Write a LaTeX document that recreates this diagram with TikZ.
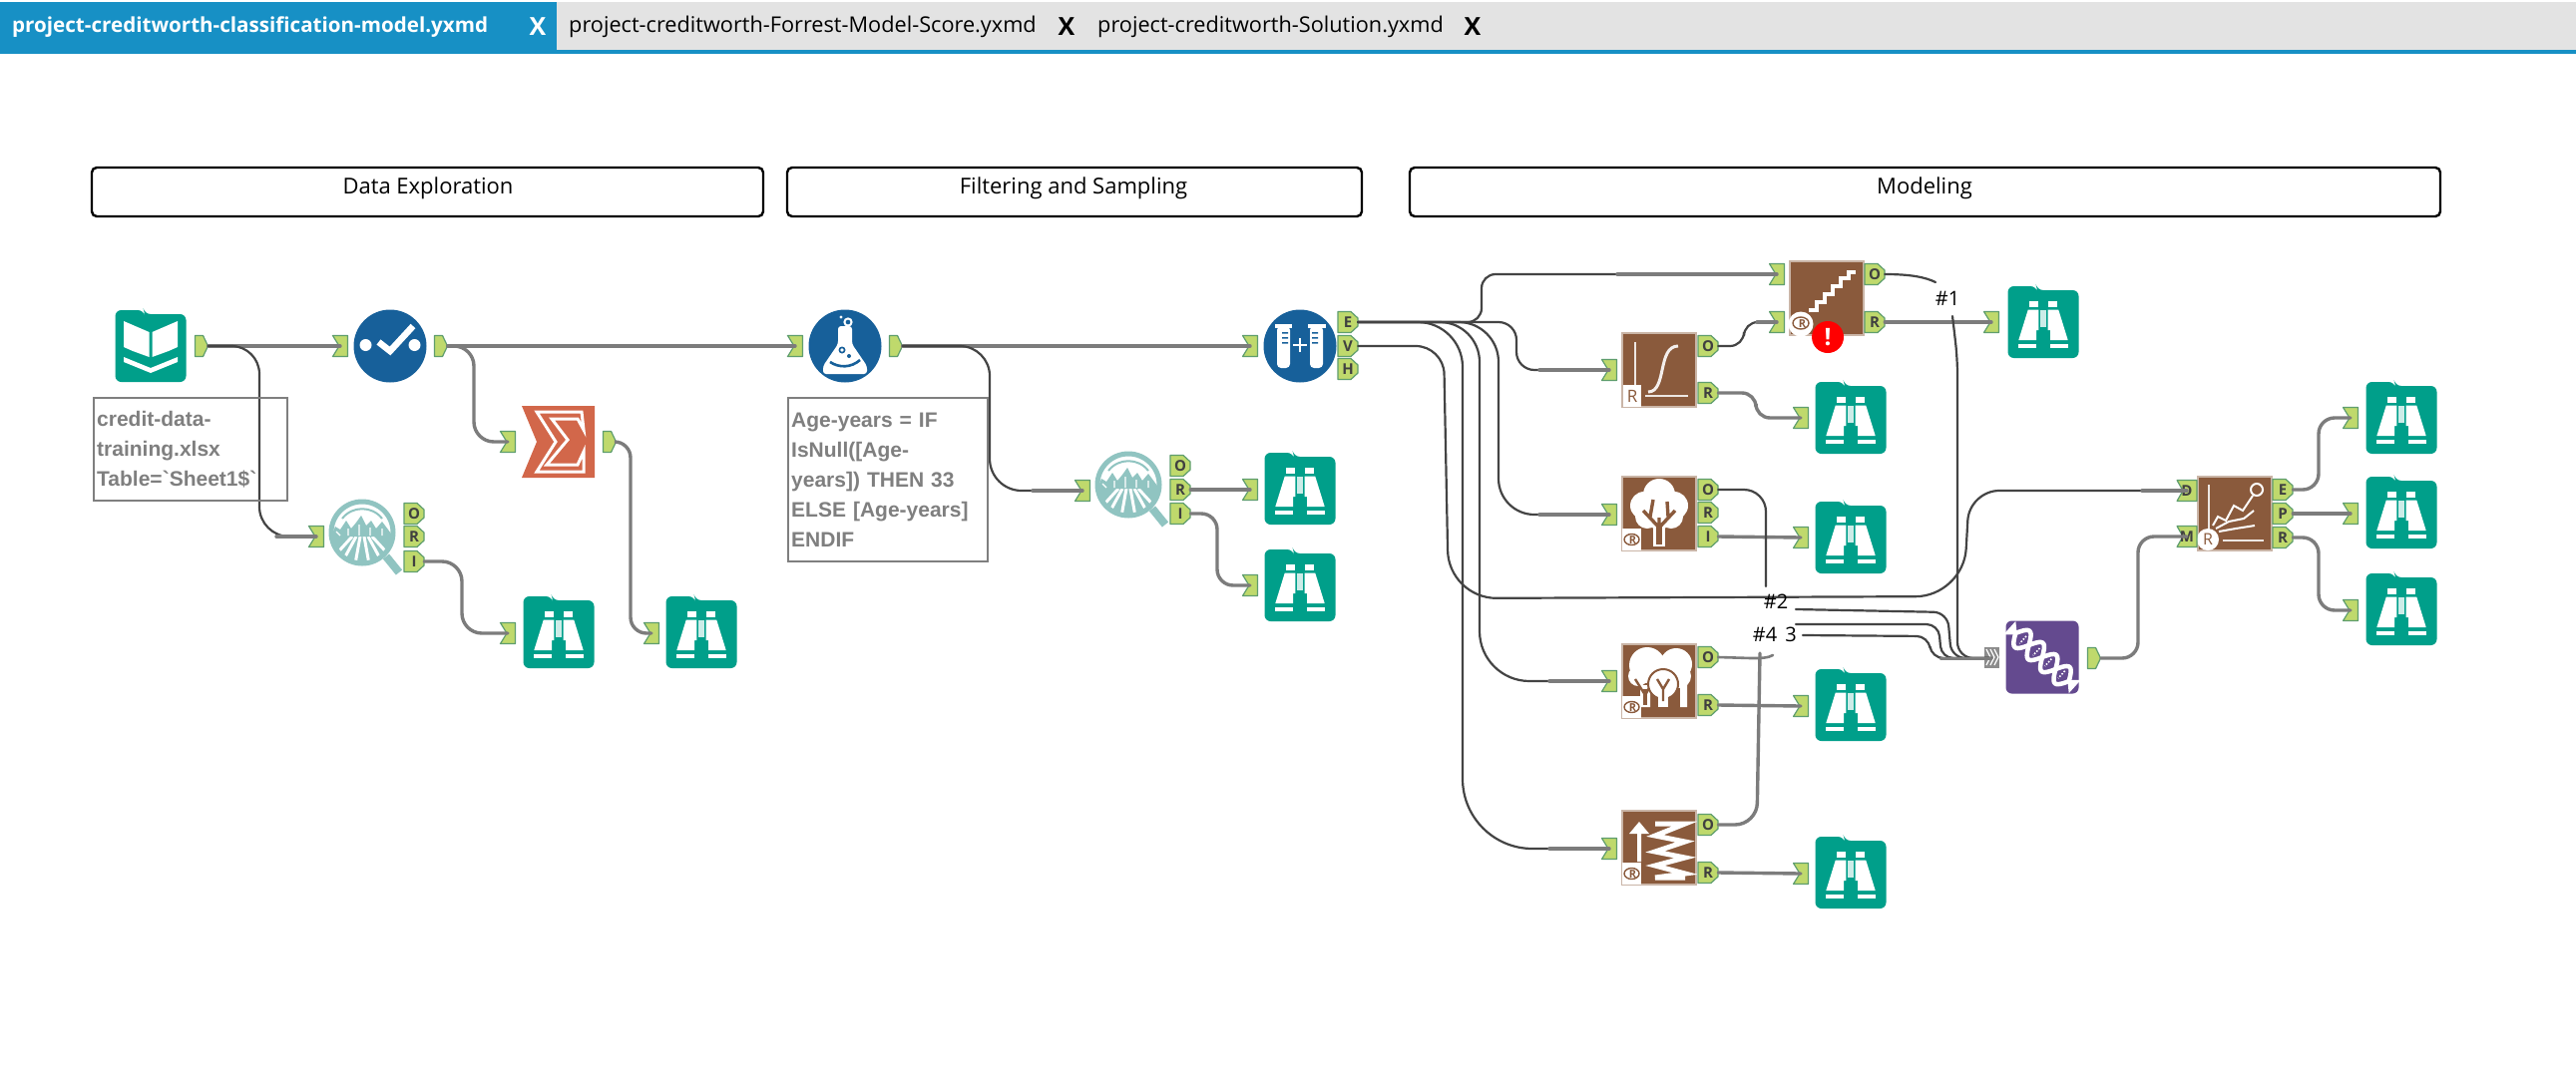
\documentclass[tikz,border=0pt]{standalone}
\usepackage{fontspec}
\setmainfont{Open Sans}
\newfontfamily\annfont{Liberation Sans}
\usetikzlibrary{calc}
\definecolor{tealc}{HTML}{009F8A}
\definecolor{brownc}{HTML}{8A5A3C}
\definecolor{bluec}{HTML}{17609A}
\definecolor{sigmac}{HTML}{D2674A}
\definecolor{purplec}{HTML}{644A8F}
\definecolor{magc}{HTML}{90C4C1}
\definecolor{ancfill}{HTML}{BFD96C}
\definecolor{ancedge}{HTML}{5F9E6E}
\definecolor{tabblue}{HTML}{1790C5}
\definecolor{tabgray}{HTML}{E3E3E3}
\definecolor{wiregray}{HTML}{7C7C7C}
\definecolor{wiredark}{HTML}{444444}
\definecolor{anngray}{HTML}{7F7F7F}
\newcommand\FolderShape{[rounded corners=6] (-35.5,-36) -- (-7,-36) -- (-6,-32) -- (35.5,-32) -- (35.5,36) -- (-35.5,36) -- cycle}
\newcommand\BrownBase{\fill[brownc,draw=brownc!45!white,line width=1.2] (-37,-37) -- (37,-37) -- (37,37) -- (-37,37) -- cycle;}
\newcommand\RBox{\fill[white] (-37,15) rectangle (-18,37);
  \draw[brownc,line width=1.4] (-27.5,26) ellipse (7.5 and 5.5);
  \node[inner sep=0,text=brownc,font=\fontsize{11}{11}\selectfont\bfseries] (rmark) at (-26.5,26.5) {R};}
\tikzset{
  wire/.style={draw=wiregray,line width=3.4,line cap=round},
  longw/.style={draw=wiredark,line width=2.2,line cap=round},
  anc/.style={fill=ancfill,draw=ancedge,line width=1.2,line join=round},
  ancnode/.style={inner sep=0,minimum height=21,text=black!75,font=\fontsize{15}{15}\selectfont\bfseries},
  toolbox/.style={inner sep=0,minimum width=72,minimum height=72},
  container/.style={draw=black,line width=2.4,rounded corners=5,fill=white},
  conttext/.style={inner sep=0,text=black,font=\fontsize{22}{24}\selectfont},
  annot/.style={draw=anngray,line width=2.4,inner sep=3,anchor=north west,align=left,text=anngray,font=\annfont\fontsize{21}{30}\selectfont\bfseries},
  tabtext/.style={inner sep=0,font=\fontsize{21.7}{24}\selectfont},
  tabbold/.style={inner sep=0,font=\fontsize{20.6}{24}\selectfont\bfseries},
  tabx/.style={inner sep=0,font=\fontsize{25}{25}\selectfont\bfseries},
  wlabel/.style={inner sep=0,text=black,font=\fontsize{20}{22}\selectfont},
  browseicon/.pic={
    \fill[tealc] \FolderShape;
    \foreach \s in {1,-1}{\begin{scope}[xscale=\s]
      \fill[white] (-15.3,-12.3) -- (-4.7,-12.3) -- (-4.7,8) -- (-7,8) -- (-7,18) -- (-24.7,18) -- cycle;
      \fill[white] (-13.7,-21) rectangle (-4.7,-15);
      \fill[white] (-24.7,21.5) rectangle (-7,25.5);
    \end{scope}}
    \fill[white!80!tealc] (-3.5,-12) rectangle (3,5);
  },
  bookicon/.pic={
    \fill[tealc] \FolderShape;
    \foreach \s in {1,-1}{\begin{scope}[xscale=\s]
      \fill[white] (-27,-25) -- (-1.5,-14) -- (-1.5,11) -- (-18,5) -- (-27,1) -- cycle;
      \fill[white] (-27,11) -- (0,22) -- (0,27) -- (-27,16) -- cycle;
    \end{scope}}
  },
  checkicon/.pic={
    \fill[bluec] (0,0) ellipse (36.5 and 36.5);
    \fill[white] (-24.5,-1) circle (6) (24.5,-1) circle (6);
    \draw[white,line width=6.5] (-11.5,-4) -- (0,5) -- (23,-20);
  },
  flaskicon/.pic={
    \fill[bluec] (0,0) ellipse (36.5 and 36.5);
    \fill[white,rounded corners=3] (-7,-20) -- (7,-20) -- (7,-2) -- (22,20) -- (22,28) -- (-22,28) -- (-22,20) -- (-7,-2) -- cycle;
    \fill[bluec] (-3,4) circle (3.5) (4,10) circle (2);
    \fill[white] (-3,4) circle (1.8);
    \draw[bluec,line width=2.6] (-15,16) .. controls (-6,22) and (6,22) .. (15,14);
    \draw[white,line width=2] (3,-24) circle (3.6);
    \fill[white] (-4,-29) circle (1.6);
  },
  tubesicon/.pic={
    \fill[bluec] (0,0) ellipse (36.5 and 36.5);
    \foreach \s in {1,-1}{\begin{scope}[xscale=\s]
      \fill[white,rounded corners=4] (-23,-20) -- (-10,-20) -- (-10,22) -- (-23,22) -- cycle;
      \fill[white] (-25.5,-22) rectangle (-8,-18.5);
      \fill[bluec] (-18,-14) rectangle (-12,-12.4) (-18,-9) rectangle (-12,-7.4) (-18,-4) rectangle (-12,-2.4);
    \end{scope}}
    \draw[white,line width=2.2] (-7,-1) -- (7,-1) (0,-8) -- (0,6);
  },
  sigmaicon/.pic={
    \fill[sigmac] (-37,-36) -- (36,-36) -- (36,36) -- (-37,36) -- (-22,0) -- cycle;
    \draw[white,line width=3,line join=miter,fill=sigmac] (-22,-30) -- (23,-30) -- (25,-12) -- (19,-23) -- (-7,-23) -- (9,-2) -- (-12,23) -- (19,23) -- (25,10) -- (25,30) -- (-22,30) -- (-3,0) -- cycle;
  },
  magicon/.pic={
    \draw[magc,line width=8] (24,24) -- (37,40);
    \fill[white] (0,0) circle (31);
    \begin{scope}
      \clip (0,0) circle (31);
      \fill[magc] (-31,3) rectangle (31,33);
      \foreach \a in {-60,-36,-12,12,36,60}{\draw[white,line width=3] (\a/6,4) -- ({\a*0.62},34);}
      \fill[magc] (-31,4) -- (-27,-6) -- (-22,-3) -- (-16,-12) -- (-11,-4) -- (-6,-10) -- (-1,-17) -- (4,-7) -- (9,-12) -- (14,-4) -- (20,-11) -- (26,-3) -- (31,4) -- cycle;
      \draw[white,line width=1.2] (-26,-1) -- (-22,3) (-14,-4) -- (-14,3) (-3,-8) -- (-3,3) (8,-5) -- (8,3) (20,-4) -- (20,3);
    \end{scope}
    \draw[magc,line width=5] (0,0) circle (31);
    \draw[magc,line width=2] (-20,-14) .. controls (-10,-27) and (10,-27) .. (20,-14);
  },
  logisticicon/.pic={
    \BrownBase
    \draw[white!85!brownc,line width=2.6] (-24,-28) -- (-24,16) (-14,26) -- (29,26);
    \draw[white!90!brownc,line width=3] (-11,22) .. controls (8,22) and (-2,-24) .. (19,-24);
    \fill[white] (-36,15) rectangle (-18,37);
    \node[inner sep=0,text=brownc,font=\fontsize{17}{17}\selectfont] (rmark) at (-27,26) {R};
  },
  stepicon/.pic={
    \BrownBase
    \draw[white,line width=4.5,line join=miter] (-18,12) -- (-10,12) -- (-10,4) -- (-2,4) -- (-2,-4) -- (6,-4) -- (6,-12) -- (14,-12) -- (14,-20) -- (22,-20) -- (22,-26) -- (29,-26);
    \fill[white] (-26,26) circle (12.5);
    \draw[brownc,line width=1.4] (-26,25) ellipse (8 and 6);
    \node[inner sep=0,text=brownc,font=\fontsize{11}{11}\selectfont\bfseries] (rmark) at (-24.5,26) {R};
  },
  treeicon/.pic={
    \BrownBase
    \fill[white] (-15,-8) circle (14) (15,-8) circle (14) (0,-19) circle (16) (-12,3) circle (12) (12,3) circle (12) (0,2) circle (14);
    \fill[white] (-6,10) rectangle (6,33);
    \fill[brownc] (-3,12) rectangle (3,31);
    \draw[brownc,line width=3.4] (0,14) -- (0,4) (0,14) -- (-16,-3) (0,14) -- (16,-3) (-9,3) -- (-6,-14) (9,3) -- (8,-12);
    \RBox
  },
  forestIcon/.pic={
    \BrownBase
    \fill[white] (-12,-16) circle (18) (-21,-5) circle (10) (17,-17) circle (16) (20,-5) circle (12) (0,-7) circle (8);
    \fill[white] (-19,4) rectangle (-9,26) (21,4) rectangle (28,26);
    \fill[brownc] (-16,8) rectangle (-12,24);
    \draw[brownc,line width=2.4] (-14,14) -- (-24,-2) (-14,14) -- (-5,-2);
    \fill[white,draw=brownc,line width=2] (4,3) circle (15);
    \fill[white] (-1,14) rectangle (9,26);
    \draw[brownc,line width=2.4] (4,20) -- (4,6) (4,8) -- (-2,-2) (4,8) -- (10,-2);
    \RBox
  },
  boosticon/.pic={
    \BrownBase
    \fill[white] (-20,-26) -- (-10,-14) -- (-18,-14) -- (-18,14) -- (-22,14) -- (-22,-14) -- (-30,-14) -- cycle;
    \draw[white,line width=5] (-4,-24) -- (26,-24) -- (-4,-12) -- (26,-6) -- (-4,4) -- (26,10) -- (-4,18) -- (26,26) -- (-4,30) -- (26,30);
    \RBox
  },
  dnaicon/.pic={
    \fill[purplec,rounded corners=6] (-36.5,-36.5) rectangle (36.5,36.5);
    \begin{scope}[rotate=-42]
      \draw[white,line width=4.5] plot[domain=-36:36,samples=50,smooth] (\x,{11*sin(\x*10)});
      \draw[white,line width=4.5] plot[domain=-36:36,samples=50,smooth] (\x,{-11*sin(\x*10)});
      \foreach \p in {-26,-8,8,26}{\draw[white,line width=1.6,dashed,dash pattern=on 1.6 off 1.6] (\p,-5) -- (\p,5);}
      \fill[white] (-44,-9) -- (-34,0) -- (-44,9) -- cycle;
      \fill[white] (44,-9) -- (34,0) -- (44,9) -- cycle;
    \end{scope}
  },
  compareicon/.pic={
    \BrownBase
    \draw[white!85!brownc,line width=2] (-26,-29) -- (-26,18) (-12,27) -- (29,27);
    \draw[white,line width=2] (-22,12) -- (-17,3) -- (-9,7) -- (-1,-8) -- (8,-3) -- (18,-18);
    \draw[white,line width=2] (-19,15) -- (-6,8) -- (9,5) -- (19,-3);
    \draw[white,line width=2] (-16,18) -- (1,15) -- (20,12);
    \draw[white,line width=2] (22,-24) circle (6);
    \fill[white] (-27,26) circle (11);
    \node[inner sep=0,text=brownc,font=\fontsize{16}{16}\selectfont] (rmark) at (-27,26) {R};
  }
}
\newcommand\Tool[4]{\node[toolbox] (#1) at (#2,#3) {}; \pic at (#1.center) {#4};}
\newcommand\InA[4]{\begin{scope}[shift={(#2,#3)}]
  \draw[anc] (-7.5,-10.5) -- (7.5,-10.5) -- (7.5,10.5) -- (-7.5,10.5) -- (-1,0) -- cycle;
  \end{scope}\node[ancnode,minimum width=15] (#1) at (#2,#3) {#4};}
\newcommand\InL[4]{\begin{scope}[shift={(#2,#3)}]
  \draw[anc] (-10,-10.5) -- (10,-10.5) -- (10,10.5) -- (-10,10.5) -- (-4,0) -- cycle;
  \end{scope}\node[ancnode,minimum width=20] (#1) at (#2,#3) {#4};}
\newcommand\OutA[3]{\begin{scope}[shift={(#2,#3)}]
  \draw[anc] (-6.5,-10.5) -- (1.5,-10.5) -- (6.5,0) -- (1.5,10.5) -- (-6.5,10.5) -- cycle;
  \end{scope}\node[ancnode,minimum width=13] (#1) at (#2,#3) {};}
\newcommand\OutL[4]{\begin{scope}[shift={(#2,#3)}]
  \draw[anc] (-10,-10.5) -- (3,-10.5) -- (10,-4) -- (10,4) -- (3,10.5) -- (-10,10.5) -- cycle;
  \end{scope}\node[ancnode,minimum width=20] (#1) at (#2,#3) {#4};}
\newcommand\Wr[5][wire]{\coordinate (vv) at (#3,0);
  \draw[#1,rounded corners=#5] (#2.east) -- (#2.east -| vv) -- (#4.center -| vv) -- (#4.center);}
\newcommand\Wrr[6][longw]{\coordinate (vv) at (#3,0);
  \draw[#1,rounded corners=#5] (#2.east) -- (#2.east -| vv) [rounded corners=#6] -- (#4.center -| vv) -- (#4.center);}
\newcommand\Stub[2]{\draw[wire] (#1.center) -- ++(-#2,0);}
\begin{document}
\begin{tikzpicture}[x=1pt,y=-1pt]
\useasboundingbox (0,0) rectangle (2582,1082);
\fill[white] (0,0) rectangle (2582,1082);
\fill[tabgray] (0,2) rectangle (2582,50);
\fill[tabblue] (0,50) rectangle (2582,54);
\fill[tabblue] (0,2) rectangle (558,54);
\node[tabbold,anchor=west,text=white] (tab1) at (12,27) {project-creditworth-classification-model.yxmd};
\node[tabx,text=white] (x1) at (539,27) {X};
\node[tabtext,anchor=west,text=black] (tab2) at (570,27) {project-creditworth-Forrest-Model-Score.yxmd};
\node[tabx,text=black] (x2) at (1069,27) {X};
\node[tabtext,anchor=west,text=black] (tab3) at (1100,27) {project-creditworth-Solution.yxmd};
\node[tabx,text=black] (x3) at (1476,27) {X};
\draw[container] (92,168) rectangle (765,217);
\node[conttext] (c1) at (429,189) {Data Exploration};
\draw[container] (789,168) rectangle (1365,217);
\node[conttext] (c2) at (1076,189) {Filtering and Sampling};
\draw[container] (1413,168) rectangle (2446,217);
\node[conttext] (c3) at (1929,189) {Modeling};
\Tool{book}{151}{347}{bookicon}
\Tool{check}{391}{347}{checkicon}
\Tool{sigma}{560}{443}{sigmaicon}
\Tool{magA}{363}{534}{magicon}
\Tool{brA}{560}{634}{browseicon}
\Tool{brB}{703}{634}{browseicon}
\Tool{flask}{847}{347}{flaskicon}
\Tool{tubes}{1303}{347}{tubesicon}
\Tool{magB}{1131}{486}{magicon}
\Tool{brC}{1303}{490}{browseicon}
\Tool{brD}{1303}{587}{browseicon}
\Tool{logi}{1663}{371}{logisticicon}
\Tool{step}{1831}{299}{stepicon}
\Tool{tree}{1663}{515}{treeicon}
\Tool{forest}{1663}{683}{forestIcon}
\Tool{boost}{1663}{850}{boosticon}
\Tool{brE}{1855}{419}{browseicon}
\Tool{brF}{1855}{539}{browseicon}
\Tool{brG}{1855}{707}{browseicon}
\Tool{brH}{1855}{875}{browseicon}
\Tool{brI}{2048}{323}{browseicon}
\Tool{dna}{2047}{659}{dnaicon}
\Tool{comp}{2240}{515}{compareicon}
\Tool{brJ}{2407}{419}{browseicon}
\Tool{brK}{2407}{514}{browseicon}
\Tool{brL}{2407}{611}{browseicon}
\fill[red] (1832,338) circle (16);
\node[inner sep=0,text=white,font=\fontsize{24}{24}\selectfont\bfseries] (err) at (1832,338) {!};
\OutA{bookO}{202}{347}
\InA{checkI}{341}{347}{}
\OutA{checkO}{442}{347}
\InA{sigmaI}{509}{443}{}
\OutA{sigmaO}{611}{443}
\InA{magAI}{317}{538}{}
\OutL{magAo}{415}{515}{O}
\OutL{magAr}{415}{538}{R}
\OutL{magAi}{415}{563}{I}
\InA{brAI}{509}{635}{}
\InA{brBI}{653}{635}{}
\InA{flaskI}{797}{347}{}
\OutA{flaskO}{898}{347}
\InA{tubesI}{1253}{347}{}
\OutL{tubesE}{1351}{323}{E}
\OutL{tubesV}{1351}{347}{V}
\OutL{tubesH}{1351}{370}{H}
\InA{magBI}{1085}{492}{}
\OutL{magBo}{1183}{467}{O}
\OutL{magBr}{1183}{491}{R}
\OutL{magBi}{1183}{515}{I}
\InA{brCI}{1253}{491}{}
\InA{brDI}{1253}{587}{}
\InA{stepI}{1781}{275}{}
\InA{stepJ}{1781}{323}{}
\OutL{stepO}{1879}{275}{O}
\OutL{stepR}{1879}{323}{R}
\InA{logiI}{1613}{371}{}
\OutL{logiO}{1712}{347}{O}
\OutL{logiR}{1712}{394}{R}
\InA{brEI}{1805}{419}{}
\InA{treeI}{1613}{516}{}
\OutL{treeO}{1712}{491}{O}
\OutL{treeR}{1712}{514}{R}
\OutL{treeI2}{1712}{538}{I}
\InA{brFI}{1805}{539}{}
\InA{forestI}{1613}{683}{}
\OutL{forestO}{1712}{659}{O}
\OutL{forestR}{1712}{707}{R}
\InA{brGI}{1805}{708}{}
\InA{boostI}{1613}{851}{}
\OutL{boostO}{1712}{827}{O}
\OutL{boostR}{1712}{875}{R}
\InA{brHI}{1805}{876}{}
\InA{brII}{1996}{323}{}
\begin{scope}[shift={(1996,659)}]
  \fill[black!45] (-7.5,-10.5) rectangle (7.5,10.5);
  \draw[white,line width=1.2] (-5,-8) -- (-1,0) -- (-5,8) (-1,-8) -- (3,0) -- (-1,8) (3,-8) -- (7,0) -- (3,8);
\end{scope}
\node[ancnode,minimum width=15] (dnaI) at (1996,660) {};
\OutA{dnaO}{2099}{660}
\InL{compD}{2192}{492}{D}
\InL{compM}{2192}{538}{M}
\OutL{compE}{2288}{491}{E}
\OutL{compP}{2288}{515}{P}
\OutL{compR}{2288}{539}{R}
\InA{brJI}{2356}{419}{}
\InA{brKI}{2356}{515}{}
\InA{brLI}{2356}{612}{}
\coordinate (f1a) at (1940,283);
\coordinate (f1b) at (1957,317);
\coordinate (f2a) at (1770,588);
\coordinate (f2b) at (1800,611);
\coordinate (f3a) at (1777,657);
\coordinate (f3b) at (1807,637);
\coordinate (f4a) at (1764,655);
\coordinate (f4b) at (1800,626);
\draw[wire] (bookO.east) -- (checkI.center);
\draw[wire] (checkO.east) -- (flaskI.center);
\draw[wire] (flaskO.east) -- (tubesI.center);
\draw[wire] (magBr.east) -- (brCI.center);
\draw[wire] (stepR.east) -- (brII.center);
\draw[wire] (treeI2.east) -- (brFI.center);
\draw[wire] (forestR.east) -- (brGI.center);
\draw[wire] (boostR.east) -- (brHI.center);
\draw[wire] (compP.east) -- (brKI.center);
\Wrr[longw]{bookO}{260}{magAI}{28}{30} \Stub{magAI}{40}
\Wr{checkO}{475}{sigmaI}{20}
\Wr{sigmaO}{632}{brBI}{16}
\Wr{magAi}{463}{brAI}{20}
\Wrr[longw]{flaskO}{992}{magBI}{30}{32} \Stub{magBI}{50}
\Wr{magBi}{1220}{brDI}{16}
\Wr[longw]{logiO}{1748}{stepJ}{14} \Stub{stepJ}{20}
\Wr{logiR}{1760}{brEI}{14}
\Wr[longw]{tubesE}{1485}{stepI}{14} \Stub{stepI}{160}
\Wr[longw]{tubesE}{1520}{logiI}{18} \Stub{logiI}{70}
\Wrr[longw]{tubesE}{1502}{treeI}{40}{36} \Stub{treeI}{70}
\Wrr[longw]{tubesE}{1483}{forestI}{40}{50} \Stub{forestI}{60}
\Wrr[longw]{tubesE}{1466}{boostI}{45}{70} \Stub{boostI}{60}
\draw[longw,rounded corners=28] (tubesV.east) -- (1447,347) [rounded corners=48] -- (1452,600) -- (1968,598) [rounded corners=30] -- (1974,492) -- (compD.center);
\Stub{compD}{45}
\Wr{dnaO}{2143}{compM}{16}
\Wr{compE}{2324}{brJI}{16}
\Wr{compR}{2324}{brLI}{16}
\draw[longw] (stepO.east) .. controls (1915,275) and (1930,278) .. (f1a);
\draw[longw,rounded corners=16] (f1b) -- (1962,360) -- (1962,660) -- (dnaI.center);
\draw[longw,rounded corners=22] (treeO.east) -- (1770,491) -- (f2a);
\draw[longw,rounded corners=14] (f2b) -- (1952,614) -- (1956,660) -- (dnaI.center);
\draw[wire,line width=2.6] (forestO.east) -- (1755,660) .. controls (1765,660) and (1772,660) .. (f3a);
\draw[longw,rounded corners=12] (f3b) -- (1933,638) -- (1936,660) -- (dnaI.center);
\draw[wire,rounded corners=22] (boostO.east) -- (1761,827) -- (f4a);
\draw[longw,rounded corners=12] (f4b) -- (1943,626) -- (1946,660) -- (dnaI.center);
\draw[wire,line width=3] (1945,660) -- (dnaI.center);
\node[annot,text width=188,minimum height=103] (noteA) at (93,398) {credit-data-\\training.xlsx\\Table=`Sheet1\$`};
\node[annot,text width=194,minimum height=164] (noteB) at (789,398) {Age-years = IF\\IsNull([Age-\\years]) THEN 33\\ELSE [Age-years]\\ENDIF};
\node[wlabel] (l1) at (1952,299) {\#1};
\node[wlabel] (l2) at (1780,603) {\#2};
\node[wlabel] (l4) at (1769,636) {\#4};
\node[wlabel] (l3) at (1795,636) {3};
\end{tikzpicture}
\end{document}
